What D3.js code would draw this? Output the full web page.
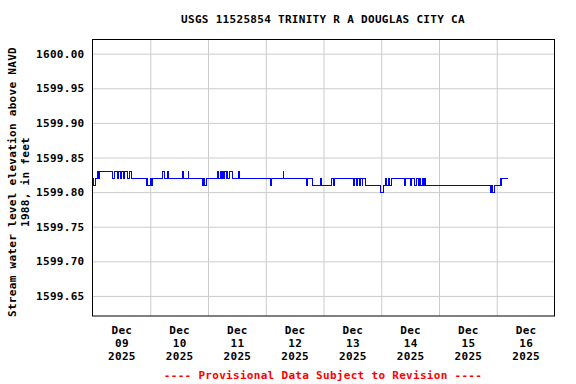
<!DOCTYPE html>
<html><head><meta charset="utf-8">
<script src="https://cdn.jsdelivr.net/npm/d3@7"></script>
<style>
body{margin:0;background:#fff;}
text{font-family:"DejaVu Sans Mono",monospace;font-weight:bold;}
</style></head>
<body><svg id="c" width="576" height="384"></svg>
<script>
const title = "USGS 11525854 TRINITY R A DOUGLAS CITY CA";
const yTitle1 = "Stream water level elevation above NAVD";
const yTitle2 = "1988, in feet";
const footer = "---- Provisional Data Subject to Revision ----";
const yTicks = [1599.65, 1599.70, 1599.75, 1599.80, 1599.85, 1599.90, 1599.95, 1600.00];
const dayLabels = ["09","10","11","12","13","14","15","16"];
const monthLabel = "Dec", yearLabel = "2025";
// change points: hours since 2025-12-09 00:00, and gage height (ft)
const hours = [0,0.5,1.25,2,2.5,3,8.5,9.25,10.25,10.75,11.5,12,13,13.5,14.75,15.25,16.25,
 22.25,22.5,23,24,24.5,25,29.25,30,31,31.5,37.5,37.75,39.75,40,45.75,46.25,46.75,47.5,
 51.75,52.5,53,53.75,54,54.5,55,55.5,56,56.25,57,58,60.75,61,74,74.25,79.25,79.5,
 89,89.5,91.25,94.75,95,99.25,100,100.5,108.5,109,109.75,110.25,111,111.5,112,112.25,113.25,
 119.75,120.75,121.75,122.25,123,123.5,124.25,129.75,130,132.25,132.5,134,134.75,135.5,136,
 136.5,137,137.5,138,138.25,165.25,166,166.25,167,169.5,169.75,170,172.75];
const values = [1599.82,1599.81,1599.82,1599.83,1599.82,1599.83,1599.82,1599.83,1599.82,1599.83,1599.82,1599.83,1599.82,1599.83,1599.82,1599.83,1599.82,
 1599.81,1599.82,1599.81,1599.82,1599.81,1599.82,1599.83,1599.82,1599.83,1599.82,1599.83,1599.82,1599.83,1599.82,1599.81,1599.82,1599.81,1599.82,
 1599.83,1599.82,1599.83,1599.82,1599.83,1599.82,1599.83,1599.82,1599.83,1599.82,1599.83,1599.82,1599.83,1599.82,1599.81,1599.82,1599.83,1599.82,
 1599.81,1599.82,1599.81,1599.82,1599.81,1599.82,1599.81,1599.82,1599.81,1599.82,1599.81,1599.82,1599.81,1599.82,1599.81,1599.82,1599.81,
 1599.80,1599.81,1599.82,1599.81,1599.82,1599.81,1599.82,1599.81,1599.82,1599.81,1599.82,1599.81,1599.82,1599.81,1599.82,
 1599.81,1599.82,1599.81,1599.82,1599.81,1599.80,1599.81,1599.80,1599.81,1599.82,1599.81,1599.82,1599.82];

const svg = d3.select("#c");
const L = 92.5, R = 554.5, T = 39.5, B = 316;
const t0 = Date.UTC(2025, 11, 9);
const H = 3600*1000;
const x = d3.scaleUtc().domain([new Date(t0), new Date(t0 + 192*H)]).range([L, R]);
const y = d3.scaleLinear().domain([1599.621, 1600.0205]).range([B, T]);

// grid
const gy = svg.append("g").attr("transform", `translate(${L},0)`)
  .call(d3.axisLeft(y).tickValues(yTicks).tickSize(-(R-L)).tickFormat(""));
gy.select(".domain").remove();
gy.selectAll("line").attr("stroke", "#cccccc");
const gridDays = d3.range(1, 8).map(i => new Date(t0 + i*24*H));
const gx = svg.append("g").attr("transform", `translate(0,${B})`)
  .call(d3.axisBottom(x).tickValues(gridDays).tickSize(-(B-T)).tickFormat(""));
gx.select(".domain").remove();
gx.selectAll("line").attr("stroke", "#cccccc");

// y labels
const ly = svg.append("g").attr("transform", `translate(${L},0)`)
  .call(d3.axisLeft(y).tickValues(yTicks).tickSize(0).tickPadding(8).tickFormat(d => d.toFixed(2)));
ly.select(".domain").remove();
ly.selectAll("text").attr("font-size", 11).attr("letter-spacing", 0.3).attr("fill", "#000")
  .attr("font-family", "DejaVu Sans Mono").attr("font-weight", "bold");

// x labels
const noons = dayLabels.map((d, i) => new Date(t0 + (i*24 + 12)*H));
const lx = svg.append("g").attr("transform", `translate(0,${B})`)
  .call(d3.axisBottom(x).tickValues(noons).tickSize(0).tickFormat(""));
lx.select(".domain").remove();
lx.selectAll(".tick").each(function(d, i) {
  const t = d3.select(this).append("text").attr("fill", "#000").attr("text-anchor", "middle")
    .attr("font-size", 11).attr("letter-spacing", 0.3);
  [monthLabel, dayLabels[i], yearLabel].forEach((s, k) =>
    t.append("tspan").attr("x", 0).attr("y", 18 + k*12.8).text(s));
});

// line
const pts = hours.map((h, i) => ({t: new Date(t0 + h*H), v: values[i]}));
svg.append("path").datum(pts)
  .attr("fill", "none").attr("stroke", "#0000ff").attr("stroke-width", 1)
  .attr("shape-rendering", "crispEdges")
  .attr("d", d3.line().x(d => x(d.t)).y(d => y(d.v)).curve(d3.curveStepAfter));

// frame
svg.append("rect").attr("x", L).attr("y", T).attr("width", R-L).attr("height", B-T)
  .attr("fill", "none").attr("stroke", "#000").attr("stroke-width", 1);

// titles
svg.append("text").attr("x", 323).attr("y", 23).attr("text-anchor", "middle")
  .attr("font-size", 11).attr("letter-spacing", 0.3).text(title);
const yt = svg.append("text").attr("transform", "translate(0,182) rotate(-90)")
  .attr("text-anchor", "middle").attr("font-size", 11).attr("letter-spacing", 0.3);
yt.append("tspan").attr("x", 0).attr("y", 16).text(yTitle1);
yt.append("tspan").attr("x", 0).attr("y", 29).text(yTitle2);
svg.append("text").attr("x", 323).attr("y", 379).attr("text-anchor", "middle")
  .attr("font-size", 11).attr("letter-spacing", 0.3).attr("fill", "#ff0000").text(footer);
</script></body></html>
